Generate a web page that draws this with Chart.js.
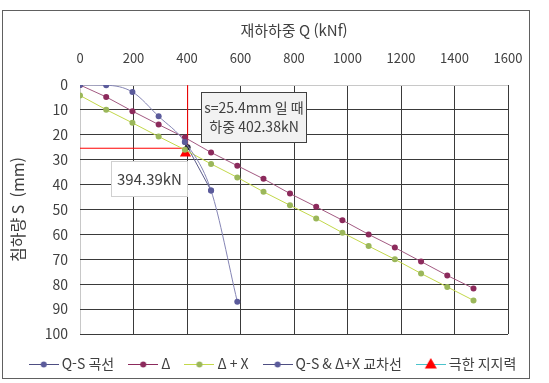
<!DOCTYPE html>
<html lang="ko">
<head>
<meta charset="utf-8">
<script src="https://cdn.jsdelivr.net/npm/chart.js@4/dist/chart.umd.min.js"></script>
<style>
html,body{margin:0;padding:0;background:#fff;}
#wrap{width:549px;height:383px;position:relative;}
</style>
</head>
<body>
<div id="wrap"><canvas id="chartQS"></canvas></div>
<script>
// 재하하중 Q (kN) - 10 tf 단계
const loads = [0, 98, 196, 294, 392, 490, 588, 686, 785, 883, 981, 1079, 1177, 1275, 1373, 1471];
// 탄성변위 Δ (mm)
const delta = [0, 4.8, 10.5, 15.9, 21.1, 27.1, 32.4, 37.7, 43.6, 48.9, 54.3, 60.0, 65.3, 70.9, 76.5, 81.7];
// Δ + X (mm)
const deltaX = [4.2, 9.9, 15.2, 20.7, 26.0, 31.7, 37.1, 42.9, 48.3, 53.6, 59.3, 64.7, 70.0, 75.7, 81.1, 86.5];
// Q-S 곡선
const qsLoads = [0, 98, 196, 294, 392, 490, 588];
const qsSettle = [0, 0.1, 2.8, 12.6, 22.9, 42.4, 87.0];
// Q-S & Δ+X 교차선
const crossLoads = [392, 402.38, 490];
const crossSettle = [22.9, 25.0, 42.4];
// 극한 지지력
const ultLoads = [394.39];
const ultSettle = [27.4];
// s = 25.4mm 기준선
const refLoads = [0, 402.38, 402.38];
const refSettle = [25.4, 25.4, 0];

const FONT = "'Noto Sans CJK KR', 'Noto Sans', sans-serif";
const TXT = '#404040';

function pts(xs, ys){ return xs.map((x, i) => ({ x: x, y: ys[i] })); }

// 범례 아이콘 (선 + 마커)
function makeIcon(lineColor, markerColor, shape){
  const c = document.createElement('canvas');
  c.width = 30; c.height = 14;
  const g = c.getContext('2d');
  g.strokeStyle = lineColor; g.lineWidth = 1;
  g.beginPath(); g.moveTo(0, 7.5); g.lineTo(30, 7.5); g.stroke();
  g.fillStyle = markerColor;
  g.beginPath();
  if(shape === 'triangle'){
    g.moveTo(15, 1); g.lineTo(21, 11.5); g.lineTo(9, 11.5); g.closePath();
  } else {
    g.arc(15, 7.5, 3, 0, Math.PI * 2);
  }
  g.fill();
  return c;
}

const framePlugin = {
  id: 'frame',
  beforeDraw(chart){
    const g = chart.ctx;
    g.save();
    g.fillStyle = '#fff';
    g.fillRect(0, 0, chart.width, chart.height);
    g.strokeStyle = '#606060';
    g.lineWidth = 1;
    g.strokeRect(2.5, 10.5, 527, 368);
    g.restore();
  }
};

// 주석 상자
const notes = [
  { lines: ['s=25.4mm 일 때', '하중 402.38kN'], q: [452, 845], s: [2.7, 22.9], fill: '#f2f2f2', stroke: '#404040', size: 14 },
  { lines: ['394.39kN'], q: [115, 401], s: [30.7, 44.7], fill: '#ffffff', stroke: '#d0d0d0', size: 15 }
];

const notePlugin = {
  id: 'notes',
  afterDatasetsDraw(chart){
    const g = chart.ctx, xs = chart.scales.x, ys = chart.scales.y;
    notes.forEach(n => {
      const x1 = Math.round(xs.getPixelForValue(n.q[0])) + 0.5;
      const x2 = Math.round(xs.getPixelForValue(n.q[1])) + 0.5;
      const y1 = Math.round(ys.getPixelForValue(n.s[0])) + 0.5;
      const y2 = Math.round(ys.getPixelForValue(n.s[1])) + 0.5;
      g.save();
      g.fillStyle = n.fill;
      g.fillRect(x1, y1, x2 - x1, y2 - y1);
      g.strokeStyle = n.stroke; g.lineWidth = 1;
      g.strokeRect(x1, y1, x2 - x1, y2 - y1);
      g.fillStyle = TXT;
      g.font = n.size + 'px ' + FONT;
      g.textAlign = 'center'; g.textBaseline = 'middle';
      const cx = (x1 + x2) / 2, cy = (y1 + y2) / 2, lh = n.size + 5;
      n.lines.forEach((t, i) => {
        g.fillText(t, cx, cy + (i - (n.lines.length - 1) / 2) * lh);
      });
      g.restore();
    });
  }
};

const gridColor = c => (c.tick && c.tick.value === 0) ? '#c8c8c8' : '#3a3a3a';

new Chart(document.getElementById('chartQS'), {
  type: 'scatter',
  data: {
    datasets: [
      { label: 'Q-S 곡선', data: pts(qsLoads, qsSettle), showLine: true, cubicInterpolationMode: 'monotone',
        borderColor: '#8585b5', borderWidth: 1, pointRadius: 3, pointBorderWidth: 0,
        pointBackgroundColor: '#5b5b9b', icon: makeIcon('#4e4e82', '#5b5b9b') },
      { label: 'Δ', data: pts(loads, delta), showLine: true, tension: 0,
        borderColor: '#a35a82', borderWidth: 1, pointRadius: 3, pointBorderWidth: 0,
        pointBackgroundColor: '#8c2a5c', icon: makeIcon('#8c2a5c', '#8c2a5c') },
      { label: 'Δ + X', data: pts(loads, deltaX), showLine: true, tension: 0,
        borderColor: '#c3d84a', borderWidth: 1, pointRadius: 3, pointBorderWidth: 0,
        pointBackgroundColor: '#9bb75a', icon: makeIcon('#c3d84a', '#9bb75a') },
      { label: 'Q-S & Δ+X 교차선', data: pts(crossLoads, crossSettle), showLine: true, tension: 0,
        borderColor: '#5c5c8a', borderWidth: 1, pointRadius: 3, pointBorderWidth: 0,
        pointBackgroundColor: ['#5b5b9b', '#2a2a3e', '#5b5b9b'], icon: makeIcon('#4e4e82', '#5b5b9b') },
      { label: '극한 지지력', data: pts(ultLoads, ultSettle), showLine: false,
        pointStyle: 'triangle', pointRadius: 6.5, pointBorderWidth: 0,
        pointBackgroundColor: '#ff0000', borderColor: '#ff0000', icon: makeIcon('#4bc3cc', '#ff0000', 'triangle') },
      { label: '', data: pts(refLoads, refSettle), showLine: true, tension: 0,
        borderColor: '#ff0000', borderWidth: 1, pointRadius: 0 }
    ]
  },
  options: {
    responsive: true,
    maintainAspectRatio: false,
    animation: false,
    layout: { padding: { left: 3, right: 3, top: 12, bottom: 2 } },
    scales: {
      x: {
        type: 'linear', position: 'top', min: 0, max: 1600,
        ticks: { stepSize: 200, padding: 19, color: TXT, font: { family: FONT, size: 13 }, callback: v => String(v) },
        grid: { color: gridColor, drawTicks: false },
        border: { display: false },
        title: { display: true, text: '재하하중 Q (kNf)', color: TXT, font: { family: FONT, size: 15 }, padding: { top: 9, bottom: 0 } },
        afterFit: s => { s.height = 73; }
      },
      y: {
        type: 'linear', position: 'left', reverse: true, min: 0, max: 100,
        ticks: { stepSize: 10, padding: 12, color: TXT, font: { family: FONT, size: 14 }, callback: v => String(v) },
        grid: { color: gridColor, drawTicks: false },
        border: { display: false },
        title: { display: true, text: '침하량 S  (mm)', color: TXT, font: { family: FONT, size: 16 }, padding: { top: 5, bottom: 0 } },
        afterFit: s => { s.width = 77; }
      },
      padRight: {
        type: 'linear', position: 'right', display: true,
        grid: { display: false }, ticks: { display: false }, border: { display: false },
        afterFit: s => { s.width = 38; }
      },
      padBottom: {
        type: 'linear', position: 'bottom', display: true,
        grid: { display: false }, ticks: { display: false }, border: { display: false },
        afterFit: s => { s.height = 5; }
      }
    },
    plugins: {
      tooltip: { enabled: false },
      legend: {
        position: 'bottom',
        labels: {
          usePointStyle: true,
          pointStyleWidth: 22,
          padding: 18,
          color: TXT,
          font: { family: FONT, size: 14 },
          generateLabels: chart => chart.data.datasets
            .map((d, i) => ({ text: d.label, pointStyle: d.icon, datasetIndex: i, hidden: false,
                              fontColor: TXT, lineWidth: 0, strokeStyle: 'transparent', fillStyle: 'transparent' }))
            .filter(l => l.pointStyle)
        }
      }
    }
  },
  plugins: [framePlugin, notePlugin]
});
</script>
</body>
</html>
